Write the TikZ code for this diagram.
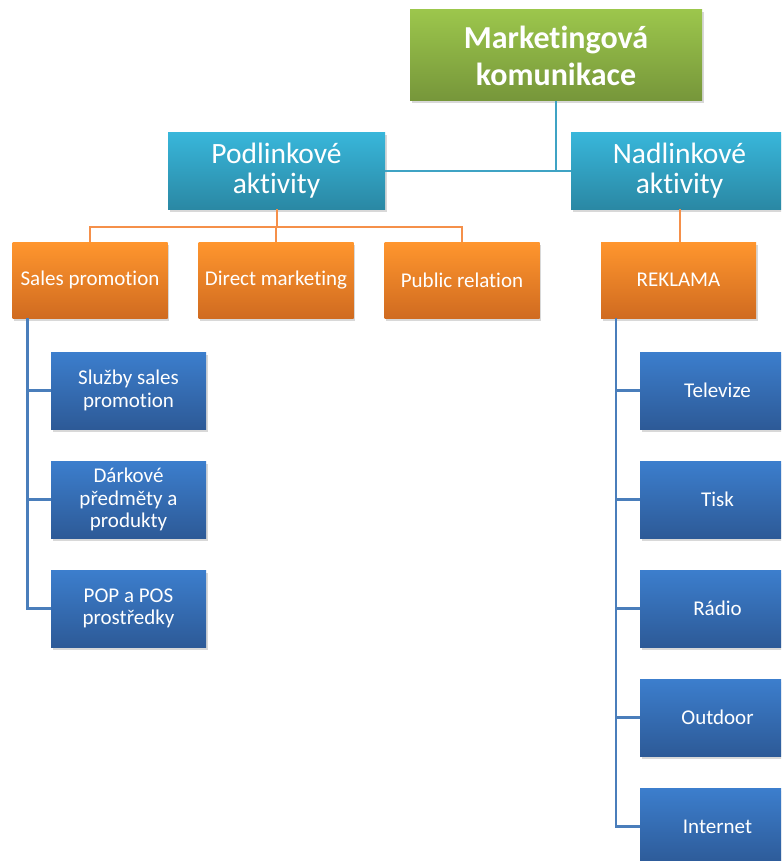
\documentclass[tikz,border=0pt]{standalone}
\usepackage{fontspec}
\setmainfont[Ligatures=NoCommon]{Carlito}
\usetikzlibrary{shadows,calc}
\definecolor{greenT}{HTML}{9CC64C}
\definecolor{greenB}{HTML}{76963A}
\definecolor{tealT}{HTML}{38B6DA}
\definecolor{tealB}{HTML}{2A88A4}
\definecolor{orangeT}{HTML}{FF962E}
\definecolor{orangeB}{HTML}{D06B20}
\definecolor{blueT}{HTML}{3C7ECD}
\definecolor{blueB}{HTML}{2D5A97}
\definecolor{tealLine}{HTML}{3FA3C4}
\definecolor{orangeLine}{HTML}{F5904A}
\definecolor{blueLine}{HTML}{4A7EBB}
\tikzset{
  box/.style={rectangle, text=white, align=center, inner sep=2pt,
    drop shadow={shadow xshift=1.5pt, shadow yshift=-2.5pt, opacity=0.3}},
  rootbox/.style={box, top color=greenT, bottom color=greenB,
    minimum width=292pt, minimum height=91pt,
    font=\bfseries\fontsize{32}{37}\selectfont},
  groupbox/.style={box, top color=tealT, bottom color=tealB,
    minimum width=217pt, minimum height=76pt,
    font=\fontsize{29.5}{30}\selectfont},
  catbox/.style={box, top color=orangeT, bottom color=orangeB,
    minimum width=155pt, minimum height=76pt,
    font=\fontsize{21}{23}\selectfont},
  itembox/.style={box, top color=blueT, bottom color=blueB,
    minimum width=155pt, minimum height=77pt,
    font=\fontsize{21}{22.5}\selectfont},
  tealwire/.style={draw=tealLine, line width=2.4pt},
  orangewire/.style={draw=orangeLine, line width=2pt},
  bluewire/.style={draw=blueLine, line width=2.4pt},
}
\begin{document}
\begin{tikzpicture}[x=1pt, y=-1pt]
\clip (0,0) rectangle (781,861);
\fill[white] (0,0) rectangle (781,861);

% hierarchy boxes
\node[rootbox]  (root) at (556,55.5)  {Marketingová\\komunikace};
\node[groupbox] (pod)  at (276.5,171) {Podlinkové\\aktivity};
\node[groupbox] (nad)  at (679.5,171) {Nadlinkové\\aktivity};

\node[catbox] (sp) at (90,280)  {Sales promotion};
\node[catbox] (dm) at (276,280) {Direct marketing};
\node[catbox] (pr) at (462,280) {Public relation};
\node[catbox] (rk) at (678.5,280) {REKLAMA};

\node[itembox] (s1) at (128.5,390.5) {Služby sales\\promotion};
\node[itembox] (s2) at (128.5,499.5) {Dárkové\\předměty a\\produkty};
\node[itembox] (s3) at (128.5,608.5) {POP a POS\\prostředky};

\node[itembox] (r1) at (717.5,390.5) {Televize};
\node[itembox] (r2) at (717.5,499.5) {Tisk};
\node[itembox] (r3) at (717.5,608.5) {Rádio};
\node[itembox] (r4) at (717.5,717.5) {Outdoor};
\node[itembox] (r5) at (717.5,826.5) {Internet};

% connectors
\draw[tealwire] (root.south) |- (nad.west);
\draw[tealwire] (pod.east) -- (nad.west);

\coordinate (obar) at (0,227);
\draw[orangewire] (pod.south) -- (pod.south |- obar);
\draw[orangewire] (sp.north) -- (sp.north |- obar) -| (pr.north);
\draw[orangewire] (dm.north) -- (dm.north |- obar);
\draw[orangewire] (nad.south) -- (nad.south |- rk.north);

\coordinate (lspine) at ($(sp.south west)+(15,0)$);
\draw[bluewire] (lspine) |- (s3.west);
\draw[bluewire] (lspine |- s1.west) -- (s1.west);
\draw[bluewire] (lspine |- s2.west) -- (s2.west);

\coordinate (rspine) at ($(rk.south west)+(15,0)$);
\draw[bluewire] (rspine) |- (r5.west);
\draw[bluewire] (rspine |- r1.west) -- (r1.west);
\draw[bluewire] (rspine |- r2.west) -- (r2.west);
\draw[bluewire] (rspine |- r3.west) -- (r3.west);
\draw[bluewire] (rspine |- r4.west) -- (r4.west);
\end{tikzpicture}
\end{document}
